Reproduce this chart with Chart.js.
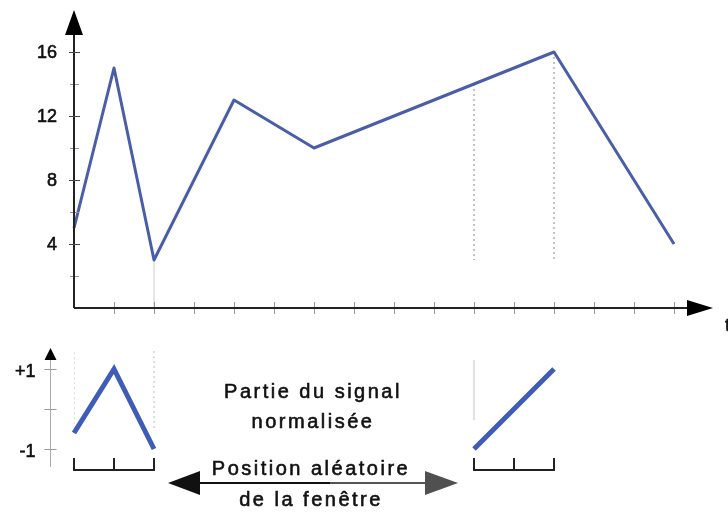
<!DOCTYPE html>
<html>
<head>
<meta charset="utf-8">
<script src="https://cdn.jsdelivr.net/npm/chart.js@4.4.1/dist/chart.umd.min.js"></script>
<style>
  body { margin: 0; background: #fff; }
  #wrap { position: relative; width: 728px; height: 515px; overflow: hidden; }
  canvas { position: absolute; left: 0; }
  #signal-chart { top: 0; }
  #window-chart { top: 335px; }
</style>
</head>
<body>
<div id="wrap">
  <canvas id="signal-chart" width="728" height="335"></canvas>
  <canvas id="window-chart" width="728" height="180"></canvas>
</div>
<script>
// ================== data ======================
const signalT = [0, 1, 2, 4, 6, 12, 15];
const signalV = [5, 15, 3, 13, 10, 16, 4];
const yTicks = [4, 8, 12, 16];
const yMinorTicks = [2, 6, 10, 14];
const xTicks = [1, 2, 3, 4, 5, 6, 7, 8, 9, 10, 11, 12, 13, 14, 15];
// dotted guides in the top chart
const guideT = [10, 12];
const guideTop = [14, 16];
const guideBottom = 3;
// normalised windows
const windowStarts = [0, 10];
const leftWinT = [0, 1, 2];
const leftWinV = [-0.6, 1, -1];
const rightWinT = [10, 12];
const rightWinV = [-1, 1];
const normTicks = [-1, 0, 1];
const normLabels = ["-1", "", "+1"];

const axisColor = "#222";
const lineColor = "#4a5ea8";
const font = "Liberation Sans, Arial, sans-serif";

function pts(xs, ys) {
  return xs.map((x, i) => ({ x: x, y: ys[i] }));
}
function triangle(ctx, x1, y1, x2, y2, x3, y3, color) {
  ctx.beginPath();
  ctx.moveTo(x1, y1);
  ctx.lineTo(x2, y2);
  ctx.lineTo(x3, y3);
  ctx.closePath();
  ctx.fillStyle = color;
  ctx.fill();
}
// slightly heavier text, like the scanned original
function heavyText(ctx, str, x, y) {
  ctx.fillText(str, x, y);
  ctx.strokeText(str, x, y);
}

// ================== top chart ======================
const signalAxes = {
  id: "signalAxes",
  afterDraw(chart) {
    const ctx = chart.ctx;
    const xs = chart.scales.x;
    const ys = chart.scales.y;
    const x0 = xs.getPixelForValue(0);
    const y0 = ys.getPixelForValue(0);
    const xEnd = xs.getPixelForValue(16);
    const yEnd = chart.chartArea.top - 2;
    ctx.save();
    // minor ticks on x axis
    ctx.strokeStyle = "#999";
    ctx.lineWidth = 1;
    xTicks.forEach((t) => {
      const px = Math.round(xs.getPixelForValue(t)) + 0.5;
      ctx.beginPath();
      ctx.moveTo(px, y0 - 6);
      ctx.lineTo(px, y0 + 6);
      ctx.stroke();
    });
    yMinorTicks.forEach((v) => {
      const py = Math.round(ys.getPixelForValue(v)) + 0.5;
      ctx.beginPath();
      ctx.moveTo(x0 - 4, py);
      ctx.lineTo(x0 + 5, py);
      ctx.stroke();
    });
    // axes
    ctx.strokeStyle = axisColor;
    ctx.lineWidth = 2;
    ctx.beginPath();
    ctx.moveTo(x0, y0);
    ctx.lineTo(xEnd - 20, y0);
    ctx.moveTo(x0, y0);
    ctx.lineTo(x0, yEnd + 20);
    ctx.stroke();
    triangle(ctx, xEnd - 1, y0, xEnd - 27, y0 - 8, xEnd - 27, y0 + 8, "#000");
    triangle(ctx, x0, yEnd, x0 - 9, yEnd + 25, x0 + 9, yEnd + 25, "#000");
    // major y ticks + labels
    ctx.strokeStyle = "#444";
    ctx.lineWidth = 1.2;
    ctx.beginPath();
    yTicks.forEach((v) => {
      const py = Math.round(ys.getPixelForValue(v)) + 0.5;
      ctx.moveTo(x0 - 5, py);
      ctx.lineTo(x0 + 6, py);
    });
    ctx.stroke();
    ctx.fillStyle = "#111";
    ctx.strokeStyle = "#111";
    ctx.lineWidth = 0.6;
    ctx.font = "18px " + font;
    ctx.textAlign = "right";
    ctx.textBaseline = "middle";
    yTicks.forEach((v) => {
      heavyText(ctx, String(v), x0 - 17, ys.getPixelForValue(v) + 1);
    });
    ctx.textAlign = "left";
    heavyText(ctx, "t", xEnd + 11, y0 + 18);
    ctx.restore();
  },
};

const guideSets = guideT.map((t, i) => ({
  data: [{ x: t, y: guideTop[i] }, { x: t, y: guideBottom }],
  borderColor: "#888",
  borderWidth: 1,
  borderDash: [2, 3],
  pointRadius: 0,
}));

new Chart(document.getElementById("signal-chart"), {
  type: "line",
  data: {
    datasets: [
      {
        data: pts(signalT, signalV),
        borderColor: lineColor,
        borderWidth: 3,
        borderJoinStyle: "round",
        pointRadius: 0,
        clip: false,
      },
      {
        data: [{ x: 2, y: 3 }, { x: 2, y: 0 }],
        borderColor: "#e2e2e2",
        borderWidth: 1,
        pointRadius: 0,
      },
    ].concat(guideSets),
  },
  options: {
    responsive: false,
    animation: false,
    layout: { padding: { left: 74, right: 14, top: 12, bottom: 27 } },
    scales: {
      x: { type: "linear", min: 0, max: 16, display: false },
      y: { min: 0, max: 18.5, display: false },
    },
    plugins: { legend: { display: false }, tooltip: { enabled: false } },
  },
  plugins: [signalAxes],
});

// ================== bottom chart ======================
const windowDecor = {
  id: "windowDecor",
  afterDraw(chart) {
    const ctx = chart.ctx;
    const xs = chart.scales.x;
    const ys = chart.scales.y;
    const axX = Math.round(xs.getPixelForValue(0) - 24) + 0.5;
    const bottom = chart.chartArea.bottom;
    ctx.save();
    // normalised y axis
    ctx.strokeStyle = "#aaa";
    ctx.lineWidth = 1;
    ctx.beginPath();
    ctx.moveTo(axX, 23);
    ctx.lineTo(axX, bottom - 3);
    ctx.stroke();
    triangle(ctx, axX, 13, axX - 6, 25, axX + 6, 25, "#000");
    ctx.font = "18px " + font;
    ctx.textAlign = "right";
    ctx.textBaseline = "middle";
    normTicks.forEach((v, i) => {
      const py = Math.round(ys.getPixelForValue(v)) + 0.5;
      ctx.strokeStyle = "#999";
      ctx.lineWidth = 1;
      ctx.beginPath();
      ctx.moveTo(axX - 6, py);
      ctx.lineTo(axX + 6, py);
      ctx.stroke();
      if (normLabels[i]) {
        ctx.fillStyle = "#111";
        ctx.strokeStyle = "#111";
        ctx.lineWidth = 0.6;
        heavyText(ctx, normLabels[i], axX - 15, py + 3);
      }
    });
    // window brackets
    ctx.strokeStyle = "#222";
    ctx.lineWidth = 2;
    windowStarts.forEach((s) => {
      const a = xs.getPixelForValue(s);
      const b = xs.getPixelForValue(s + 2);
      const m = xs.getPixelForValue(s + 1);
      ctx.beginPath();
      ctx.moveTo(a, bottom - 12);
      ctx.lineTo(a, bottom);
      ctx.lineTo(b, bottom);
      ctx.lineTo(b, bottom - 12);
      ctx.moveTo(m, bottom);
      ctx.lineTo(m, bottom - 12);
      ctx.stroke();
    });
    // double arrow
    const ay = 148;
    ctx.lineWidth = 2;
    ctx.strokeStyle = "#111";
    ctx.beginPath();
    ctx.moveTo(195, ay);
    ctx.lineTo(330, ay);
    ctx.stroke();
    ctx.strokeStyle = "#555";
    ctx.beginPath();
    ctx.moveTo(330, ay);
    ctx.lineTo(430, ay);
    ctx.stroke();
    triangle(ctx, 168, ay, 200, ay - 12, 200, ay + 12, "#111");
    triangle(ctx, 458, ay, 425, ay - 12, 425, ay + 12, "#505050");
    // text
    ctx.fillStyle = "#111";
    ctx.strokeStyle = "#111";
    ctx.lineWidth = 0.6;
    ctx.font = "20px " + font;
    ctx.letterSpacing = "2.5px";
    ctx.textAlign = "center";
    ctx.textBaseline = "middle";
    heavyText(ctx, "Partie du signal", 313, 57);
    heavyText(ctx, "normalisée", 313, 87);
    heavyText(ctx, "Position aléatoire", 311, 134);
    heavyText(ctx, "de la fenêtre", 311, 165);
    ctx.restore();
  },
};

new Chart(document.getElementById("window-chart"), {
  type: "line",
  data: {
    datasets: [
      {
        data: pts(leftWinT, leftWinV),
        borderColor: "#3f5cb8",
        borderWidth: 5,
        borderJoinStyle: "miter",
        pointRadius: 0,
        clip: false,
      },
      {
        data: pts(rightWinT, rightWinV),
        borderColor: "#3f5cb8",
        borderWidth: 5,
        pointRadius: 0,
        clip: false,
      },
      {
        data: [{ x: 0, y: 1.42 }, { x: 0, y: -0.52 }],
        borderColor: "#bbb",
        borderWidth: 1,
        borderDash: [2, 3],
        pointRadius: 0,
      },
      {
        data: [{ x: 2, y: 1.45 }, { x: 2, y: -0.5 }],
        borderColor: "#bbb",
        borderWidth: 1,
        borderDash: [2, 3],
        pointRadius: 0,
      },
      {
        data: [{ x: 10, y: 1.22 }, { x: 10, y: -0.28 }],
        borderColor: "#ddd",
        borderWidth: 1,
        pointRadius: 0,
      },
    ],
  },
  options: {
    responsive: false,
    animation: false,
    layout: { padding: { left: 74, right: 14, top: 13, bottom: 45 } },
    scales: {
      x: { type: "linear", min: 0, max: 16, display: false },
      y: { min: -1.525, max: 1.525, display: false },
    },
    plugins: { legend: { display: false }, tooltip: { enabled: false } },
  },
  plugins: [windowDecor],
});
</script>
</body>
</html>
